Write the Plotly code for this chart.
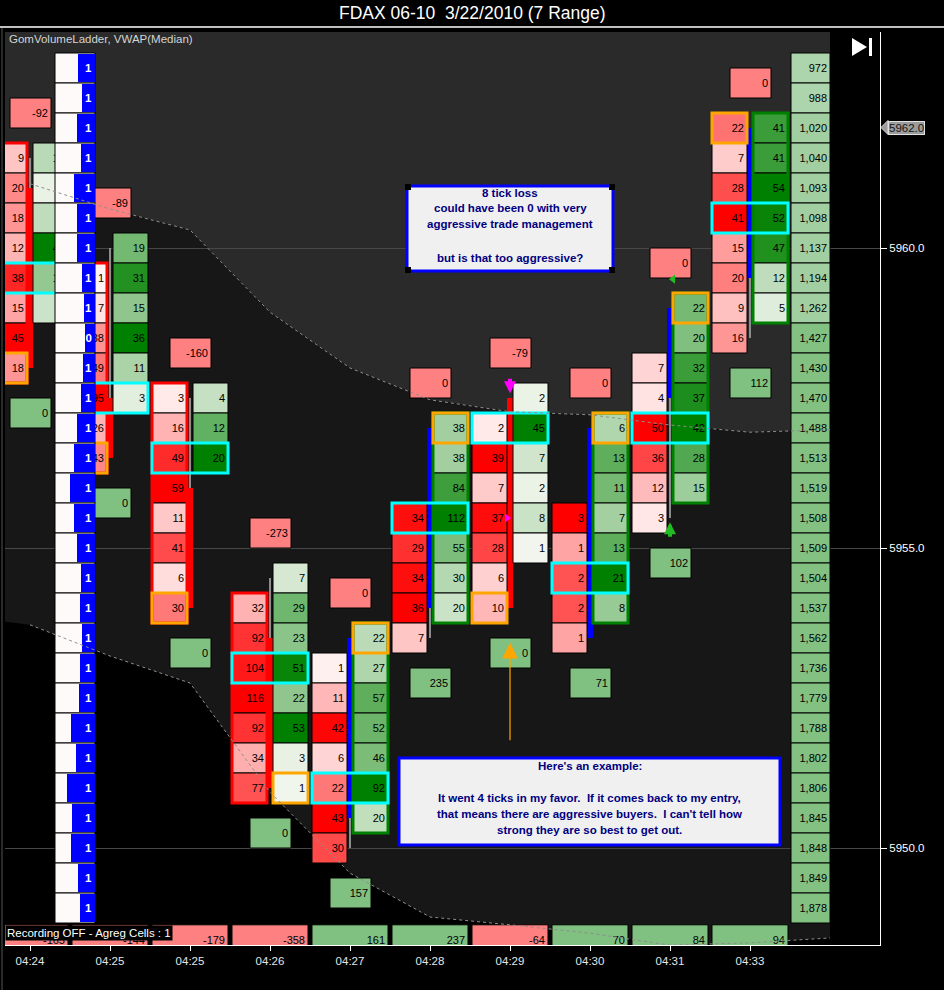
import plotly.graph_objects as go

# ---------------- data ----------------
bar_times = ["04:24", "04:25", "04:25", "04:26", "04:27", "04:28", "04:29", "04:30", "04:31", "04:33"]
bar_open = [5961.0, 5957.5, 5956.0, 5953.5, 5950.5, 5954.0, 5957.5, 5953.5, 5957.5, 5959.5]
bar_close = [5958.0, 5956.5, 5954.0, 5951.0, 5953.5, 5957.0, 5954.0, 5957.0, 5959.0, 5962.0]
bar_high = [5961.5, 5960.0, 5957.5, 5954.5, 5953.5, 5957.0, 5957.5, 5957.0, 5959.0, 5962.0]
bar_low = [5958.0, 5956.5, 5954.0, 5951.0, 5950.0, 5953.5, 5954.0, 5953.5, 5955.5, 5958.5]

bid_top = [5961.5, 5959.5, 5957.5, 5954.0, 5953.0, 5955.5, 5957.0, 5955.5, 5958.0, 5962.0]
bid_vol = [
    [9, 20, 18, 12, 38, 15, 45, 18],
    [1, 7, 38, 49, 95, 26, 43],
    [3, 16, 49, 59, 11, 41, 6, 30],
    [32, 92, 104, 116, 92, 34, 77],
    [1, 11, 42, 6, 22, 43, 30],
    [34, 29, 34, 36, 7],
    [2, 39, 7, 37, 28, 6, 10],
    [3, 1, 2, 2, 1],
    [7, 4, 50, 36, 12, 3],
    [22, 7, 28, 41, 15, 20, 9, 16],
]
ask_top = [5961.5, 5960.0, 5957.5, 5954.5, 5953.5, 5957.0, 5957.5, 5957.0, 5959.0, 5962.0]
ask_vol = [
    [10, 2, 9, 40, 16, 7],
    [19, 31, 15, 36, 11, 3],
    [4, 12, 20],
    [7, 29, 23, 51, 22, 53, 3, 1],
    [22, 27, 57, 52, 46, 92, 20],
    [38, 38, 84, 112, 55, 30, 20],
    [2, 45, 7, 2, 8, 1],
    [6, 13, 11, 7, 13, 21, 8],
    [22, 20, 32, 37, 42, 28, 15],
    [41, 41, 54, 52, 47, 12, 5],
]
poc_price = [5959.5, 5957.5, 5956.5, 5953.0, 5951.0, 5955.5, 5957.0, 5954.5, 5957.0, 5960.5]
mark_side = ["bid", "bid", "bid", "ask", "ask", "ask", "bid", "ask", "ask", "bid"]
mark_price = [5958.0, 5956.5, 5954.0, 5951.0, 5953.5, 5957.0, 5954.0, 5957.0, 5959.0, 5962.0]
frame_side = ["bid", "bid", "bid", "bid", "ask", "ask", None, "ask", "ask", "ask"]

delta_above = [-92, -89, -160, -273, 0, 0, -79, 0, 0, 0]
delta_below = [0, 0, 0, 0, 157, 235, 0, 71, 102, 112]
bar_delta = [-165, -144, -179, -358, 161, 237, -64, 70, 84, 94]

ladder_prices = [5963.0, 5962.5, 5962.0, 5961.5, 5961.0, 5960.5, 5960.0, 5959.5, 5959.0, 5958.5,
                 5958.0, 5957.5, 5957.0, 5956.5, 5956.0, 5955.5, 5955.0, 5954.5, 5954.0, 5953.5,
                 5953.0, 5952.5, 5952.0, 5951.5, 5951.0, 5950.5, 5950.0, 5949.5, 5949.0]
ladder_total = [972, 988, 1020, 1040, 1093, 1098, 1137, 1194, 1262, 1427,
                1430, 1470, 1488, 1513, 1519, 1508, 1509, 1504, 1537, 1562,
                1736, 1779, 1788, 1802, 1806, 1845, 1848, 1849, 1878]
ladder_bar = [17, 13, 18, 14, 21, 18, 18, 13, 11, 10,
              12, 14, 18, 21, 25, 21, 18, 14, 15, 13,
              15, 16, 24, 19, 28, 23, 24, 17, 15]
ladder_label = ["1"] * 9 + ["0"] + ["1"] * 19

band_x = [-0.3125, 0, 1, 2, 3, 4, 5, 6, 7, 8, 9, 10]
band_upper = [5961.17, 5961.07, 5960.65, 5960.30, 5958.93, 5958.00, 5957.47, 5957.27, 5957.22, 5957.05, 5956.93, 5956.97]
band_lower = [5953.77, 5953.72, 5953.20, 5952.75, 5950.93, 5949.58, 5948.85, 5948.72, 5948.58, 5948.38, 5948.42, 5948.50]

arrow_bar = [6, 8, 6]
arrow_price = [5957.58, 5955.43, 5953.42]
arrow_color = ["#ff00ff", "#22bb22", "#ffa500"]
exit_bar = [6, 8]
exit_price = [5955.5, 5959.48]

# ---------------- geometry helpers ----------------
PXX = 1 / 80.0   # bar spacing is 80 px
PXY = 1 / 60.0   # half-point rows are 30 px
ROW = 0.5
Y0, Y1 = 5948.3833, 5963.6
X0, X1 = -0.3125, 10.625
FONT = "Liberation Sans"


def paper_x(px):
    return (px - 5) / 875.0


def paper_y(py):
    return (945 - py) / 913.0


def mix(c1, c2, f):
    f = max(0.0, min(1.0, f))
    return "rgb(%d,%d,%d)" % tuple(round(a + (b - a) * f) for a, b in zip(c1, c2))


def hbar(y, base, length, thick, color, line_color="black", line_width=1, text=None, font=None):
    return go.Bar(orientation="h", y=y, x=length, base=base, width=thick,
                  marker=dict(color=color, line=dict(color=line_color, width=line_width)),
                  text=text, textposition="inside" if text is not None else "none",
                  insidetextanchor="end", textangle=0, constraintext="none",
                  textfont=font, hoverinfo="skip", showlegend=False)


cell_font = dict(family=FONT, size=11, color="black")
CLEAR = "rgba(0,0,0,0)"
n = len(bar_times)

fig = go.Figure()

# wicks and bodies
fig.add_trace(hbar([(bar_high[i] + bar_low[i]) / 2 for i in range(n)],
                   [i - 0.75 * PXX for i in range(n)], [1.5 * PXX] * n,
                   [bar_high[i] - bar_low[i] for i in range(n)], "#8c8c8c", line_width=0))
fig.add_trace(hbar([(bar_open[i] + bar_close[i]) / 2 for i in range(n)],
                   [i - 3 * PXX for i in range(n)], [6 * PXX] * n,
                   [abs(bar_open[i] - bar_close[i]) for i in range(n)],
                   ["#0000ff" if bar_close[i] > bar_open[i] else "#ff0000" for i in range(n)],
                   line_width=0))

# bid / ask cells
for side, tops, vols, off, lo, hi in [("bid", bid_top, bid_vol, -38, (255, 246, 246), (255, 0, 0)),
                                      ("ask", ask_top, ask_vol, 3, (246, 248, 242), (0, 128, 0))]:
    ys, bases, cols, txt = [], [], [], []
    for i in range(n):
        m = max(vols[i])
        for k, v in enumerate(vols[i]):
            ys.append(tops[i] - k * ROW)
            bases.append(i + off * PXX)
            cols.append(mix(lo, hi, v / m))
            txt.append(str(v))
    fig.add_trace(hbar(ys, bases, [35 * PXX] * len(ys), ROW, cols, text=txt, font=cell_font))

# bar frames
fy, fb, fw, fc = [], [], [], []
for i in range(n):
    if frame_side[i] is None:
        continue
    top = bid_top[i] if frame_side[i] == "bid" else ask_top[i]
    cnt = len(bid_vol[i]) if frame_side[i] == "bid" else len(ask_vol[i])
    bottom = top - (cnt - 1) * ROW
    fy.append((top + bottom) / 2)
    fw.append(top - bottom + ROW)
    fb.append(i + (-38 if frame_side[i] == "bid" else 3) * PXX)
    fc.append("#ff0000" if frame_side[i] == "bid" else "#008000")
fig.add_trace(hbar(fy, fb, [35 * PXX] * len(fy), fw, CLEAR, line_color=fc, line_width=3))

# point of control and open/close highlight
fig.add_trace(hbar(poc_price, [i - 38 * PXX for i in range(n)], [76 * PXX] * n, ROW,
                   CLEAR, line_color="#00ffff", line_width=3))
fig.add_trace(hbar(mark_price, [i + (-38 if mark_side[i] == "bid" else 3) * PXX for i in range(n)],
                   [35 * PXX] * n, ROW, CLEAR, line_color="#ffa500", line_width=3))

# delta boxes above / below each bar
fig.add_trace(hbar([bar_high[i] + 0.75 for i in range(n)] + [bar_low[i] - 0.75 for i in range(n)],
                   [i - 20 * PXX for i in range(n)] * 2, [41 * PXX] * (2 * n), ROW,
                   ["#ff8080"] * n + ["#80c080"] * n,
                   text=[str(v) for v in delta_above + delta_below], font=cell_font))
# per-bar delta row at the bottom
fig.add_trace(hbar([5948.47] * n, [i - 38 * PXX for i in range(n)], [76 * PXX] * n, ROW,
                   ["#ff8080" if v < 0 else "#80c080" for v in bar_delta],
                   text=[str(v) for v in bar_delta], font=cell_font))

# left volume ladder
m_cells = len(ladder_prices)
fig.add_trace(hbar(ladder_prices, [25 * PXX] * m_cells, [40 * PXX] * m_cells, ROW, "#fffafa"))
fig.add_trace(hbar(ladder_prices, [(65 - w) * PXX for w in ladder_bar], [w * PXX for w in ladder_bar],
                   ROW - 2 * PXY, "#0000ff", line_width=0))
fig.add_trace(hbar(ladder_prices, [25 * PXX] * m_cells, [40 * PXX] * m_cells, ROW, CLEAR, line_width=0,
                   text=["<b>%s</b>" % s for s in ladder_label],
                   font=dict(family=FONT, size=11.5, color="white")))

# right total-volume ladder
lad_cols = []
for v in ladder_total:
    if v < 1000:
        lad_cols.append("#add5ad")
    elif v < 1400:
        lad_cols.append("#a2cfa2")
    else:
        lad_cols.append("#82c182")
fig.add_trace(hbar(ladder_prices, [761 * PXX] * m_cells, [39 * PXX] * m_cells, ROW, lad_cols,
                   text=["{:,}".format(v) for v in ladder_total], font=cell_font))

# VWAP band edges
for band in (band_upper, band_lower):
    fig.add_trace(go.Scatter(x=band_x[1:], y=band[1:], mode="lines",
                             line=dict(color="#8e8e8e", width=1, dash="dot"),
                             hoverinfo="skip", showlegend=False))

# execution triangles
fig.add_trace(go.Scatter(x=[exit_bar[0] - 3 * PXX, exit_bar[1] + 3 * PXX], y=exit_price, mode="markers",
                         marker=dict(symbol=["triangle-right", "triangle-left"], size=8,
                                     color=["#ff00ff", "#22bb22"]),
                         hoverinfo="skip", showlegend=False))

# band fills (behind everything)
top_path = "M %f,%f " % (band_x[0], 5965) + " ".join("L %f,%f" % (x, y) for x, y in zip(band_x, band_upper)) \
    + " L %f,%f Z" % (band_x[-1], 5965)
mid_path = "M " + " L ".join("%f,%f" % (x, y) for x, y in zip(band_x, band_upper)) + " L " \
    + " L ".join("%f,%f" % (x, y) for x, y in zip(band_x[::-1], band_lower[::-1])) + " Z"
shapes = [
    dict(type="path", path=top_path, xref="x", yref="y", fillcolor="#2a2a2a", line=dict(width=0), layer="below"),
    dict(type="path", path=mid_path, xref="x", yref="y", fillcolor="#171717", line=dict(width=0), layer="below"),
    dict(type="line", xref="paper", yref="paper", x0=paper_x(0), x1=paper_x(944), y0=paper_y(27), y1=paper_y(27),
         line=dict(color="white", width=1.5)),
    dict(type="line", xref="paper", yref="paper", x0=paper_x(2), x1=paper_x(2), y0=paper_y(28), y1=paper_y(990),
         line=dict(color="#555555", width=1)),
    # play-to-end button
    dict(type="path", xref="paper", yref="paper", fillcolor="white", line=dict(width=0),
         path="M %f,%f L %f,%f L %f,%f Z" % (paper_x(852), paper_y(38), paper_x(852), paper_y(56),
                                             paper_x(867), paper_y(47))),
    dict(type="rect", xref="paper", yref="paper", fillcolor="white", line=dict(width=0),
         x0=paper_x(869), x1=paper_x(872), y0=paper_y(38), y1=paper_y(56)),
    # last price tag pointer
    dict(type="path", xref="paper", yref="paper", fillcolor="#9c9c9c", line=dict(color="#e0e0e0", width=1),
         path="M %f,%f L %f,%f L %f,%f Z" % (paper_x(881), paper_y(127.5), paper_x(888), paper_y(120.5),
                                             paper_x(888), paper_y(134.5))),
]

# note boxes
notes = [
    ((407, 186, 613, 271), 3,
     ["8 tick loss", "could have been 0 with very", "aggressive trade management", "but is that too aggressive?"],
     [193, 208, 224, 258], True),
    ((399, 758, 780, 845), 3,
     ["Here's an example:", "It went 4 ticks in my favor.\u00a0 If it comes back to my entry,",
      "that means there are aggressive buyers.\u00a0 I can't tell how", "strong they are so best to get out."],
     [766, 798, 814, 830], False),
]
annotations = []
for (xa, ya, xb, yb), lw, lines, line_y, handles in notes:
    shapes.append(dict(type="rect", xref="paper", yref="paper", x0=paper_x(xa), x1=paper_x(xb),
                       y0=paper_y(ya), y1=paper_y(yb), fillcolor="#f0f0f0",
                       line=dict(color="#0000ff", width=lw), layer="above"))
    if handles:
        for cx in (xa + 1, xb - 1):
            for cy in (ya + 1, yb - 1):
                shapes.append(dict(type="rect", xref="paper", yref="paper", x0=paper_x(cx - 3), x1=paper_x(cx + 3),
                                   y0=paper_y(cy - 3), y1=paper_y(cy + 3), fillcolor="black",
                                   line=dict(width=0), layer="above"))
    for t, py in zip(lines, line_y):
        annotations.append(dict(xref="paper", yref="paper", x=paper_x((xa + xb) / 2), y=paper_y(py),
                                text="<b>%s</b>" % t, showarrow=False, xanchor="center", yanchor="middle",
                                font=dict(family=FONT, size=11.5, color="#000080")))

# trade arrows
for b, p, c in zip(arrow_bar, arrow_price, arrow_color):
    if c == "#ffa500":
        annotations.append(dict(x=b, y=p, xref="x", yref="y", text="", showarrow=True, ax=0, ay=99,
                                arrowhead=2, arrowwidth=1.2, arrowsize=2.6, arrowcolor=c, standoff=0))
    else:
        annotations.append(dict(x=b, y=p, xref="x", yref="y", text="", showarrow=True, ax=0,
                                ay=-16 if c == "#ff00ff" else 16,
                                arrowhead=2, arrowwidth=4, arrowsize=0.6, arrowcolor=c, standoff=0))

annotations += [
    dict(xref="paper", yref="paper", x=paper_x(472), y=paper_y(13), text="FDAX 06-10\u00a0 3/22/2010 (7 Range)",
         showarrow=False, yanchor="middle", font=dict(family=FONT, size=17.5, color="white")),
    dict(xref="paper", yref="paper", x=paper_x(7), y=paper_y(39), text="GomVolumeLadder, VWAP(Median)",
         showarrow=False, xanchor="left", yanchor="middle", font=dict(family=FONT, size=11.5, color="#d4d4d4")),
    dict(xref="paper", yref="paper", x=paper_x(5), y=paper_y(933), text="Recording OFF - Agreg Cells : 1",
         showarrow=False, xanchor="left", yanchor="middle", bgcolor="black", borderpad=1,
         font=dict(family=FONT, size=11.5, color="white")),
    dict(xref="paper", yref="y", x=paper_x(888), y=5962.0, text="5962.0", showarrow=False, xanchor="left",
         yanchor="middle", bgcolor="#9c9c9c", bordercolor="#e0e0e0", borderwidth=1, borderpad=0,
         font=dict(family=FONT, size=11.5, color="#151515")),
]

fig.update_layout(
    width=944, height=990, barmode="overlay",
    margin=dict(l=5, r=64, t=32, b=45),
    paper_bgcolor="black", plot_bgcolor="black",
    shapes=shapes, annotations=annotations, showlegend=False,
    xaxis=dict(range=[X0, X1], tickvals=list(range(n)), ticktext=bar_times, ticks="outside", ticklen=5,
               tickcolor="white", showline=True, linecolor="white", linewidth=1, showgrid=False,
               zeroline=False, tickfont=dict(family=FONT, size=11.5, color="#e6e6e6"), fixedrange=True),
    yaxis=dict(range=[Y0, Y1], side="right", tickvals=[5950, 5955, 5960],
               ticktext=["5950.0", "5955.0", "5960.0"], ticks="outside", ticklen=6, tickcolor="white",
               showline=True, linecolor="white", linewidth=1, showgrid=True, gridcolor="#474747",
               zeroline=False, tickfont=dict(family=FONT, size=11.5, color="white"), fixedrange=True),
)

# the page's default 8px body margin would shift the whole chart; remove it
fig.write_html("out.html", config={"displayModeBar": False},
               post_script="document.body.style.margin='0';document.body.style.background='black';")
